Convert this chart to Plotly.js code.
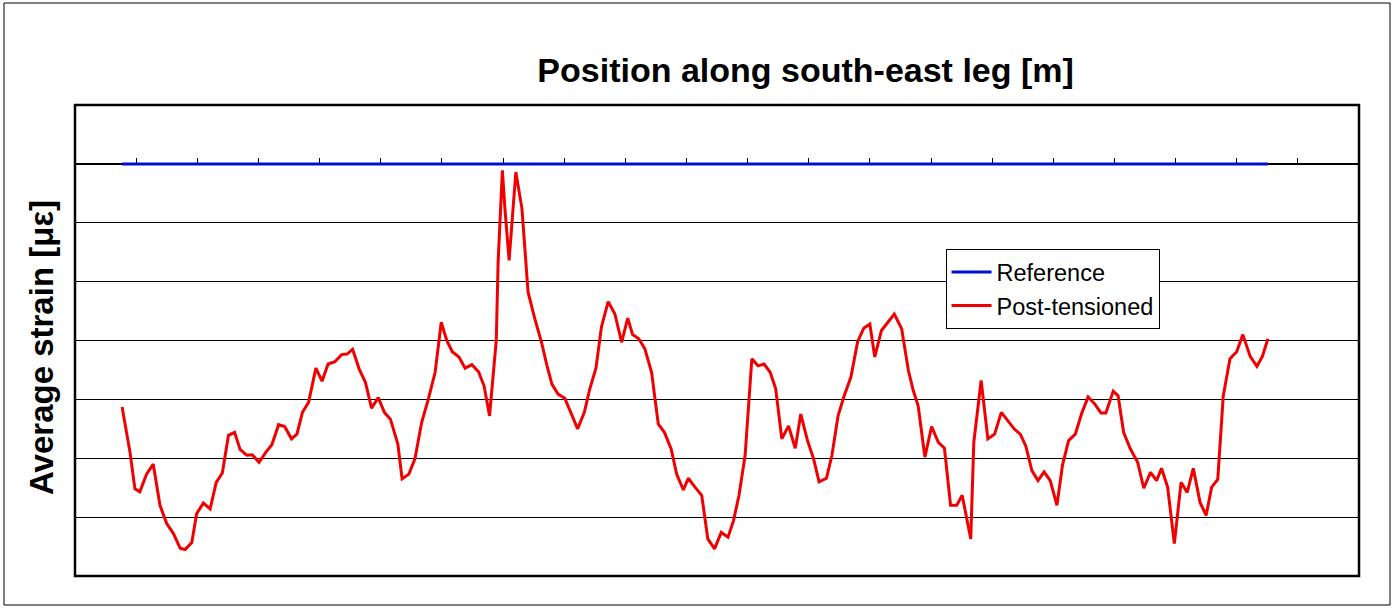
<!DOCTYPE html>
<html>
<head>
<meta charset="utf-8">
<script src="https://cdn.plot.ly/plotly-3.0.1.min.js"></script>
<style>
  html, body { margin: 0; padding: 0; background: #ffffff; }
  #chart { width: 1393px; height: 612px; }
</style>
</head>
<body>
<div id="chart"></div>
<script>
// Position along the leg (chart x units) for each measured point
const positions = [
  7.7, 9.0, 9.8, 10.6, 11.7, 12.8, 13.9, 15.0, 16.1, 17.2,
  18.0, 19.1, 19.9, 21.0, 22.1, 23.1, 24.1, 25.1, 26.1, 27.0,
  28.1, 29.0, 30.1, 31.2, 32.2, 33.3, 34.3, 35.4, 36.3, 37.2,
  38.2, 39.4, 40.4, 41.4, 42.5, 43.6, 44.5, 45.4, 46.5, 47.5,
  48.5, 49.6, 50.6, 51.6, 52.8, 53.5,
  54.6, 55.6, 56.7, 57.8, 58.9, 59.9, 60.8, 61.7, 62.8, 63.8,
  64.9, 66.0, 66.9, 67.8, 68.9, 69.2, 69.9, 70.3, 71.0, 72.1,
  73.1, 74.1, 75.2, 76.3, 77.2, 78.0, 79.0, 80.1, 81.2, 82.2,
  83.3, 84.2, 85.2, 86.1, 87.2, 88.3, 89.4, 90.4, 91.2, 92.2,
  93.2, 94.3, 95.4, 96.4, 97.5, 98.4, 99.5, 100.3, 101.4, 102.5,
  103.5, 104.6, 105.7, 106.8, 107.7, 108.6, 109.6, 110.7, 111.7, 112.7,
  113.7, 114.6, 115.6, 116.7, 117.8, 118.7, 119.8, 120.8, 121.7, 122.9,
  123.8, 124.8, 125.8, 126.9, 128.0, 129.0, 130.0, 130.8, 131.9, 133.0,
  134.0, 135.2, 136.3, 137.1, 137.9, 139.0, 140.1, 141.2, 142.2, 143.2,
  144.2, 145.1, 146.5, 147.0, 148.2, 149.3, 150.4, 151.5, 152.7, 153.6,
  154.6, 155.5, 156.5, 157.5, 158.5, 159.5, 160.6, 161.5, 162.5, 163.6,
  164.7, 165.7, 166.8, 167.8, 168.6, 169.8, 170.6, 171.5, 172.6, 173.8,
  174.8, 175.9, 176.9, 177.7, 178.7, 179.8, 180.9, 181.9, 182.9, 184.0,
  185.0, 185.9, 186.9, 187.8, 188.9, 190.0, 191.0, 192.2, 193.3, 194.2,
  195.1
];

// Post-tensioned average strain (με)
const postTensioned = [
  -413, -490, -552, -557, -527, -510, -580, -611, -628, -653,
  -655, -643, -594, -576, -586, -541, -525, -461, -456, -485,
  -495, -494, -507, -490, -477, -443, -446, -467, -459, -422,
  -405, -347, -369, -340, -336, -324, -323, -315, -349, -371,
  -415, -397, -422, -434, -476, -535,
  -527, -501, -439, -399, -354, -269, -300, -319, -328, -347,
  -341, -353, -377, -428, -300, -167, -11, -74, -164, -14,
  -76, -218, -263, -303, -343, -374, -391, -398, -425, -450,
  -422, -382, -347, -277, -234, -255, -303, -262, -290, -297,
  -314, -354, -442, -456, -484, -527, -554, -534, -549, -563,
  -637, -654, -626, -634, -606, -563, -495, -331, -343, -340,
  -354, -382, -467, -445, -483, -425, -470, -501, -540, -534,
  -495, -428, -394, -362, -302, -279, -272, -328, -283, -269,
  -255, -280, -351, -385, -411, -498, -446, -473, -483, -580,
  -580, -563, -637, -473, -368, -467, -459, -422, -439, -450,
  -459, -479, -521, -538, -523, -538, -580, -512, -470, -459,
  -422, -396, -408, -423, -423, -386, -394, -456, -484, -507,
  -551, -524, -538, -517, -549, -645, -541, -558, -517, -575,
  -597, -549, -536, -394, -331, -319, -290, -327, -344, -327,
  -297
];

// Reference series (flat at zero over the measured length)
const refPositions = [7.7, 195.1];
const refValues = [0, 0];

// X-axis tick positions (no labels shown)
const xTickVals = [10, 20, 30, 40, 50, 60, 70, 80, 90, 100, 110, 120, 130, 140, 150, 160, 170, 180, 190, 200];

const arialFont = '"Liberation Sans", Arial, sans-serif';

const traces = [
  {
    x: refPositions, y: refValues, name: 'Reference',
    type: 'scatter', mode: 'lines',
    line: { color: '#0010D0', width: 3 }
  },
  {
    x: positions, y: postTensioned, name: 'Post-tensioned',
    type: 'scatter', mode: 'lines',
    line: { color: '#F00000', width: 3 }
  }
];

const layout = {
  width: 1393, height: 612,
  margin: { l: 75, r: 34, t: 105, b: 36 },
  paper_bgcolor: '#ffffff', plot_bgcolor: '#ffffff',
  showlegend: true,
  title: {
    text: '<b>Position along south-east leg [m]</b>',
    font: { family: arialFont, size: 34, color: '#000000' },
    xref: 'paper', x: 0.569, xanchor: 'center',
    yref: 'container', y: 0.885, yanchor: 'middle'
  },
  xaxis: {
    range: [0, 210],
    side: 'top', anchor: 'free', position: 0.875,
    tickmode: 'array', tickvals: xTickVals,
    ticks: 'outside', ticklen: 6, tickwidth: 1, tickcolor: '#000000',
    showticklabels: false,
    showline: true, linecolor: '#000000', linewidth: 1,
    showgrid: false, zeroline: false, fixedrange: true,
    layer: 'below traces'
  },
  yaxis: {
    range: [-700, 100], dtick: 100, tick0: 0,
    showgrid: true, gridcolor: '#000000', gridwidth: 1,
    zeroline: true, zerolinecolor: '#000000', zerolinewidth: 1,
    showticklabels: false, ticks: '', showline: false, fixedrange: true,
    layer: 'below traces'
  },
  legend: {
    x: 0.678, y: 0.694, xanchor: 'left', yanchor: 'top',
    bgcolor: '#ffffff', bordercolor: '#000000', borderwidth: 1,
    font: { family: arialFont, size: 23.5, color: '#000000' },
    itemwidth: 40,
    tracegroupgap: 0
  },
  annotations: [
    {
      text: '<b>Average strain [με]</b>',
      xref: 'paper', yref: 'paper',
      x: (41 - 75) / 1284, y: (576 - 348) / 471,
      xanchor: 'center', yanchor: 'middle',
      textangle: -90, showarrow: false,
      font: { family: arialFont, size: 33, color: '#000000' }
    }
  ],
  shapes: [
    {
      type: 'rect', xref: 'paper', yref: 'paper', layer: 'above',
      x0: 0, x1: 1, y0: 0, y1: 1,
      line: { color: '#000000', width: 2.5 }
    },
    {
      type: 'rect', xref: 'paper', yref: 'paper', layer: 'below',
      x0: (4 - 75) / 1284, x1: (1390 - 75) / 1284,
      y0: (576 - 605) / 471, y1: (576 - 3) / 471,
      line: { color: '#000000', width: 1 }
    }
  ]
};

Plotly.newPlot('chart', traces, layout, { displayModeBar: false, staticPlot: true });
</script>
</body>
</html>
